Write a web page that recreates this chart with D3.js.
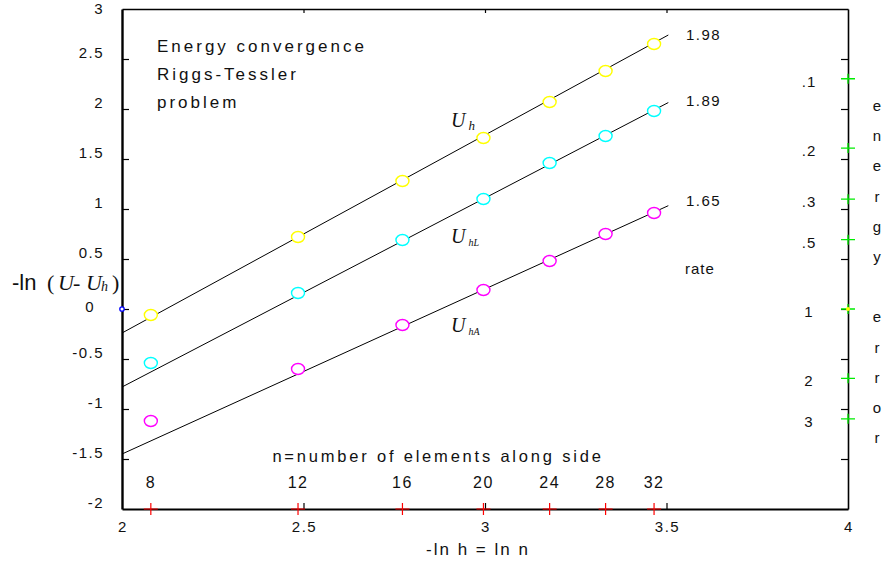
<!DOCTYPE html>
<html>
<head>
<meta charset="utf-8">
<script src="https://cdn.jsdelivr.net/npm/d3@7"></script>
<style>
body { margin: 0; background: #fff; }
text { font-family: "Liberation Sans", Arial, sans-serif; fill: #111; }
.serif { font-family: "Liberation Serif", "Times New Roman", serif; font-style: italic; }
</style>
</head>
<body>
<svg id="chart" width="884" height="564"></svg>
<script>
// number of elements along a side, plotted at ln n
var elements = [8, 12, 16, 20, 24, 28, 32];
var uh  = [-0.06, 0.72, 1.28, 1.71, 2.07, 2.38, 2.65];
var uhL = [-0.54, 0.16, 0.69, 1.10, 1.46, 1.73, 1.98];
var uhA = [-1.12, -0.60, -0.16, 0.19, 0.48, 0.75, 0.96];
var seriesColors = ["#ffff00", "#00ffff", "#ff00ff"];

// fitted lines: slope = rate, value at ln n = 2
var rates = [1.98, 1.89, 1.65];
var fitStart = [-0.24, -0.78, -1.45];
var fitEnd = 3.505;

var xTicks = [2, 2.5, 3, 3.5, 4];
var yTicks = [-2, -1.5, -1, -0.5, 0, 0.5, 1, 1.5, 2, 2.5, 3];
var errorTicks = [0.1, 0.2, 1 / 3, 0.5, 1, 2, 3];
var errorLabels = [".1", ".2", ".3", ".5", "1", "2", "3"];

var svg = d3.select("#chart");
var x = d3.scaleLinear().domain([2, 4]).range([122, 848]);
var y = d3.scaleLinear().domain([-2, 3]).range([509, 9]);

// frame with inward ticks
function frame(g, w) {
  g.selectAll(".domain").attr("stroke", "#000").attr("stroke-width", w);
  g.selectAll(".tick line").attr("stroke", "#000").attr("stroke-width", 1.2);
}
svg.append("g").attr("transform", "translate(0,9)")
  .call(d3.axisBottom(x).tickValues([2.5, 3, 3.5]).tickSize(4).tickSizeOuter(0).tickFormat(""))
  .call(frame, 1.6);
svg.append("g").attr("transform", "translate(848,0)")
  .call(d3.axisLeft(y).tickValues(yTicks.slice(1, -1)).tickSize(7).tickSizeOuter(0).tickFormat(""))
  .call(frame, 1.6);
svg.append("g").attr("transform", "translate(0,509)")
  .call(d3.axisTop(x).tickValues([2.5, 3, 3.5]).tickSize(6).tickSizeOuter(0).tickFormat(""))
  .call(frame, 2.2);
svg.append("g").attr("transform", "translate(122,0)")
  .call(d3.axisRight(y).tickValues(yTicks.slice(1, -1)).tickSize(7).tickSizeOuter(0).tickFormat(""))
  .call(frame, 2.4);

// tick labels
svg.append("g").selectAll("text").data(yTicks).enter().append("text")
  .attr("x", function(d) { return d === 0 ? 95 : 104; })
  .attr("y", function(d) { return d === 0 ? 312 : Math.max(y(d) - 1, 14); })
  .attr("text-anchor", "end").style("font-size", "15px").style("letter-spacing", "1.5px")
  .text(function(d) { return d; });
svg.append("g").selectAll("text").data(xTicks).enter().append("text")
  .attr("x", function(d) { return x(d) + 1; }).attr("y", 532)
  .attr("text-anchor", "middle").style("font-size", "15px").style("letter-spacing", "1.5px")
  .text(function(d) { return d; });
svg.append("text").attr("x", 478).attr("y", 555).attr("text-anchor", "middle")
  .style("font-size", "17px").style("letter-spacing", "2px").text("-ln h = ln n");

// n markers on the bottom axis
var nMarks = svg.append("g").selectAll("g").data(elements).enter().append("g")
  .attr("transform", function(d) { return "translate(" + x(Math.log(d)) + ",509)"; });
nMarks.append("path").attr("d", "M-7,0H7M0,-6V6").attr("stroke", "#ff0000").attr("stroke-width", 1.2);
nMarks.append("text").attr("y", -21).attr("text-anchor", "middle")
  .style("font-size", "16px").style("letter-spacing", "1.5px").text(function(d) { return d; });
svg.append("text").attr("x", 438).attr("y", 462).attr("text-anchor", "middle")
  .style("font-size", "16.5px").style("letter-spacing", "2.8px").text("n=number of elements along side");

// energy error marks on the right axis (value v sits at -ln v)
var eMarks = svg.append("g").selectAll("g").data(errorTicks).enter().append("g")
  .attr("transform", function(d) { return "translate(848," + y(-Math.log(d)) + ")"; });
eMarks.append("path").attr("d", "M-7,0H7M0,-5V5").attr("stroke", "#00ee00").attr("stroke-width", 1.3);
eMarks.append("text").attr("x", -39).attr("y", 8).attr("text-anchor", "middle")
  .style("font-size", "15px").style("letter-spacing", "1px")
  .text(function(d, i) { return errorLabels[i]; });
svg.append("circle").attr("cx", 848).attr("cy", y(0)).attr("r", 2).attr("fill", "#ffff00");
svg.append("circle").attr("cx", 122).attr("cy", y(0)).attr("r", 2.2)
  .attr("fill", "#fff").attr("stroke", "#0000ff").attr("stroke-width", 1.3);

svg.append("g").selectAll("text").data("energy error".split("")).enter().append("text")
  .attr("x", 877).attr("y", function(d, i) { return 111 + i * 30.2; })
  .attr("text-anchor", "middle").style("font-size", "15px").text(function(d) { return d; });

// fitted lines
svg.append("g").selectAll("line").data(rates).enter().append("line")
  .attr("x1", x(2)).attr("y1", function(d, i) { return y(fitStart[i]); })
  .attr("x2", x(fitEnd)).attr("y2", function(d, i) { return y(fitStart[i] + d * (fitEnd - 2)); })
  .attr("stroke", "#000").attr("stroke-width", 1);

// data points
[uh, uhL, uhA].forEach(function(s, k) {
  svg.append("g").selectAll("ellipse").data(s).enter().append("ellipse")
    .attr("cx", function(d, i) { return x(Math.log(elements[i])); })
    .attr("cy", function(d) { return y(d); })
    .attr("rx", 6.5).attr("ry", 5.5)
    .attr("fill", "#fff").attr("stroke", seriesColors[k]).attr("stroke-width", 1.4);
});

// rate labels
svg.append("g").selectAll("text").data(rates).enter().append("text")
  .attr("x", 686).attr("y", function(d, i) { return [40, 106, 206][i]; })
  .style("font-size", "15px").style("letter-spacing", "1.5px").text(function(d) { return d; });
svg.append("text").attr("x", 685).attr("y", 274).style("font-size", "15px")
  .style("letter-spacing", "1px").text("rate");

// title
svg.append("g").selectAll("text").data(["Energy convergence", "Riggs-Tessler", "problem"]).enter().append("text")
  .attr("x", 157).attr("y", function(d, i) { return 52 + i * 28; })
  .style("font-size", "17px").style("letter-spacing", "3px").text(function(d) { return d; });

// curve labels
function uLabel(px, py, sub) {
  var t = svg.append("text").attr("x", px).attr("y", py).attr("class", "serif").style("font-size", "20px");
  t.append("tspan").text("U");
  t.append("tspan").attr("dx", 3).attr("dy", 3).style("font-size", sub.length > 1 ? "10px" : "13px").text(sub);
}
uLabel(451, 127, "h");
uLabel(451, 243, "hL");
uLabel(451, 332, "hA");

// y axis title
svg.append("text").attr("x", 12).attr("y", 290).style("font-size", "22px").text("-ln");
var yt = svg.append("text").attr("y", 290).attr("class", "serif").style("font-size", "22px");
yt.append("tspan").attr("x", 47).style("font-style", "normal").text("(");
yt.append("tspan").attr("x", 58).text("U");
yt.append("tspan").attr("x", 73).style("font-style", "normal").text("-");
yt.append("tspan").attr("x", 86).text("U");
yt.append("tspan").attr("x", 101).attr("dy", 1).style("font-size", "14px").text("h");
yt.append("tspan").attr("x", 112).attr("dy", -1).style("font-style", "normal").text(")");
</script>
</body>
</html>
